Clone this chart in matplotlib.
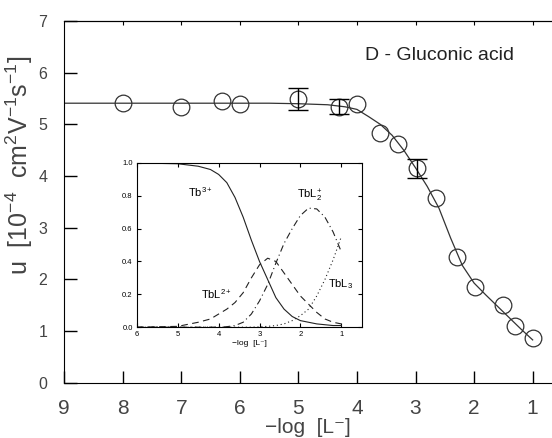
import matplotlib
matplotlib.use('Agg')
import matplotlib.pyplot as plt

plt.rcParams['font.family'] = ['Liberation Sans', 'DejaVu Sans']
plt.rcParams['mathtext.fontset'] = 'custom'
plt.rcParams['mathtext.rm'] = 'Liberation Sans'
plt.rcParams['mathtext.it'] = 'Liberation Sans:italic'

# measured mobility points
pL = [8.0, 7.0, 6.3, 6.0, 5.0, 4.3, 4.0, 3.6, 3.3, 2.98, 2.65, 2.29, 1.99, 1.51, 1.30, 1.0]
u = [5.42, 5.34, 5.45, 5.40, 5.49, 5.34, 5.40, 4.83, 4.62, 4.15, 3.57, 2.44, 1.86, 1.51, 1.10, 0.87]
# error bars only on three points
err_x = [5.0, 4.3, 2.98]
err_y = [5.49, 5.34, 4.15]
err = [0.21, 0.145, 0.19]

# fitted curve
fit_x = [9, 8, 7, 6, 5.5, 5, 4.5, 4.2, 4.0, 3.8, 3.6, 3.4, 3.2, 3.0, 2.8, 2.6, 2.4,
         2.2, 2.0, 1.8, 1.6, 1.4, 1.2, 1.0]
fit_u = [5.41, 5.41, 5.41, 5.41, 5.41, 5.40, 5.38, 5.34, 5.29, 5.15, 5.00, 4.79, 4.50,
         4.16, 3.80, 3.38, 2.80, 2.27, 1.93, 1.70, 1.48, 1.26, 1.04, 0.83]

# species distribution (inset)
dx = [6.0, 5.0, 4.5, 4.2, 4.0, 3.8, 3.6, 3.4, 3.2, 3.0, 2.8, 2.6, 2.4, 2.2, 2.0,
      1.8, 1.6, 1.4, 1.2, 1.0]
tb = [1.0, 0.995, 0.98, 0.96, 0.93, 0.88, 0.79, 0.67, 0.53, 0.40, 0.29, 0.18, 0.11,
      0.065, 0.04, 0.03, 0.02, 0.015, 0.01, 0.01]
tbl = [0.0, 0.005, 0.03, 0.05, 0.08, 0.11, 0.15, 0.21, 0.30, 0.38, 0.42, 0.40, 0.33,
       0.26, 0.19, 0.14, 0.09, 0.05, 0.03, 0.02]
tbl2 = [0.0, 0.0, 0.0, 0.0, 0.0, 0.003, 0.01, 0.03, 0.08, 0.16, 0.26, 0.39, 0.51,
        0.60, 0.68, 0.725, 0.72, 0.67, 0.58, 0.46]
tbl3 = [0.0, 0.0, 0.0, 0.0, 0.0, 0.0, 0.0, 0.0, 0.0, 0.002, 0.005, 0.01, 0.02,
        0.04, 0.07, 0.11, 0.19, 0.29, 0.41, 0.55]

fig = plt.figure(figsize=(5.52, 4.38), dpi=100)
ax = fig.add_axes([0.116, 0.126, 0.884, 0.826])

ax.plot(fit_x, fit_u, color='#333333', lw=0.9)
ax.plot(pL, u, 'o', ms=12, mfc='none', mec='#333333', mew=0.9)
ax.errorbar(err_x, err_y, yerr=err, fmt='none', ecolor='black', elinewidth=1,
            capsize=7, capthick=1)

ax.set_xlim(9, 0.67)
ax.set_ylim(0, 7)
ax.set_xticks([9, 8, 7, 6, 5, 4, 3, 2, 1])
ax.set_yticks([0, 1, 2, 3, 4, 5, 6, 7])
ax.spines['right'].set_visible(False)
ax.tick_params(axis='both', direction='in', length=9, width=1, colors='black')
ax.tick_params(axis='x', labelsize=15, labelcolor='#444444', pad=12)
ax.tick_params(axis='y', labelsize=11.5, labelcolor='#444444', pad=12)
top = ax.secondary_xaxis('top')
top.set_xticks([8, 7, 6, 5, 4, 3, 2, 1])
top.tick_params(direction='in', length=3, labeltop=False)

ax.set_xlabel('\u2212log  [L\u207b]', fontsize=15, color='#444444', labelpad=0)
ax.set_ylabel(r'u  $[10^{-4}\ \ \mathrm{cm^{2}V^{-1}s^{-1}}]$', fontsize=18,
              color='#444444')
ax.yaxis.set_label_coords(-0.06, 0.6)
ax.text(0.77, 0.905, 'D - Gluconic acid', transform=ax.transAxes, fontsize=14,
        color='#222222', ha='center', va='center')

# inset
ins = fig.add_axes([0.248, 0.253, 0.408, 0.375])
ins.plot(dx, tb, color='#222222', lw=0.8)
ins.plot(dx, tbl, color='#222222', lw=0.8, linestyle=(0, (6, 4)))
ins.plot(dx, tbl2, color='#222222', lw=0.8, linestyle=(0, (6, 3, 1, 3)))
ins.plot(dx, tbl3, color='#222222', lw=0.8, linestyle=(0, (1, 2.5)))
ins.set_xlim(6, 0.49)
ins.set_ylim(0, 1.0)
ins.set_xticks([6, 5, 4, 3, 2, 1])
ins.set_yticks([0.0, 0.2, 0.4, 0.6, 0.8, 1.0])
ins.set_yticklabels(['0.0', '0.2', '0.4', '0.6', '0.8', '1.0'])
ins.tick_params(direction='in', length=3, width=0.8, labelsize=5.5,
                top=True, right=True, pad=3)
ins.set_xlabel('\u2212log  [L\u207b]', fontsize=6, labelpad=1)
ins.text(4.45, 0.82, 'Tb$^{3+}$', fontsize=8, ha='center', va='center')
ins.text(4.05, 0.2, 'TbL$^{2+}$', fontsize=8, ha='center', va='center')
ins.text(1.78, 0.8, 'TbL$_2^{+}$', fontsize=8, ha='center', va='center')
ins.text(1.32, 0.26, 'TbL$_3$', fontsize=8, ha='left', va='center')

fig.savefig('out.png', dpi=100)
